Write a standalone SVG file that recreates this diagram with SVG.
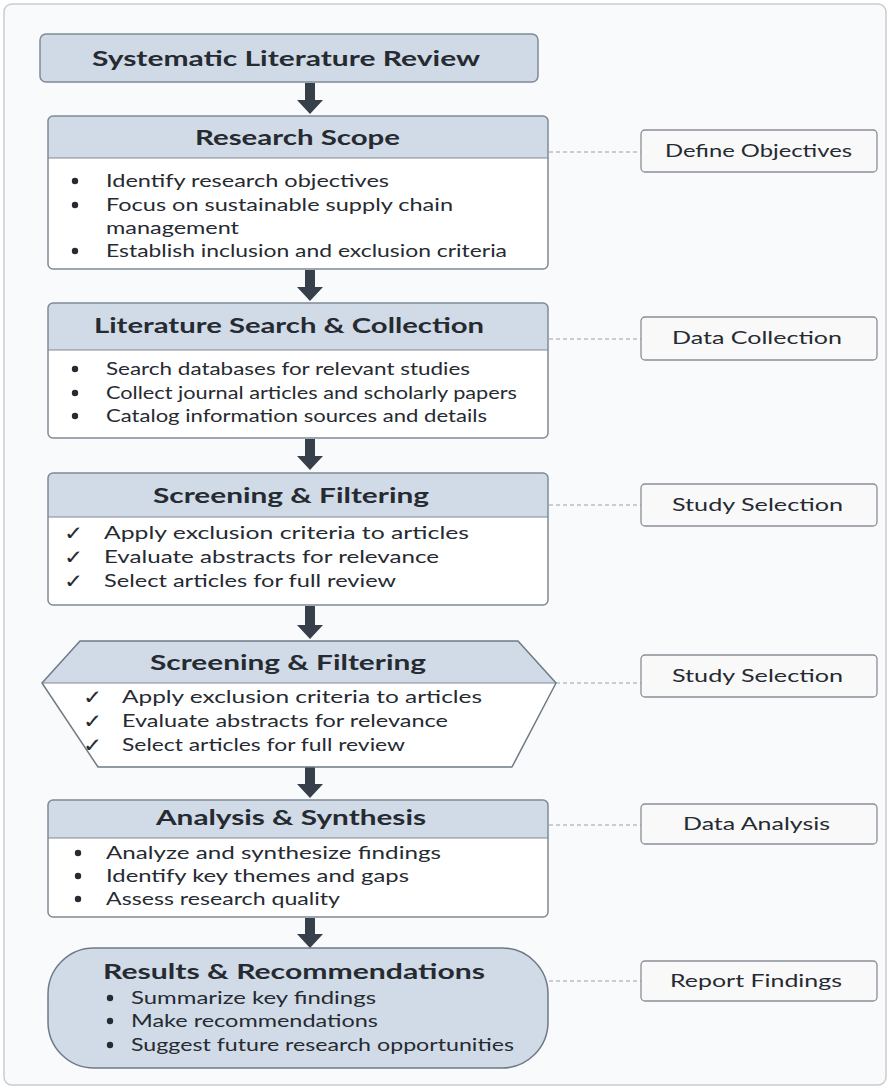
<svg xmlns="http://www.w3.org/2000/svg" width="891" height="1089" viewBox="0 0 891 1089">
<defs>
<style>
.frame{fill:#f9fafb;stroke:#c9ccd1;stroke-width:1.5}
.hdr{fill:#d0dbe7;stroke:none}
.body{fill:#ffffff;stroke:none}
.outline{fill:none;stroke:#7f8a96;stroke-width:1.5}
.side{fill:#f9f9fa;stroke:#8a8f96;stroke-width:1.3}
.dash{stroke:#9aa0a8;stroke-width:1.2;stroke-dasharray:4 3;fill:none}
.arrow{fill:#363f4a}
.t{font-family:Lato,"Open Sans","Liberation Sans",sans-serif;fill:#262a31}
.h{font-size:21.5px;font-weight:700}
.b{font-size:17px}
.s{font-size:17.5px}
.ck{font-family:"DejaVu Sans",sans-serif;font-size:20px;font-weight:700;fill:#262a31}
.dot{fill:#262a31}
</style>
</defs>
<rect class="frame" x="4" y="4" width="882" height="1081" rx="8"/>

<g id="connectors">
<path class="arrow" d="M305 83h10v17h8l-13 14l-13-14h8z"/>
<path class="arrow" d="M305 270h10v17h8l-13 14l-13-14h8z"/>
<path class="arrow" d="M305 439h10v17h8l-13 14l-13-14h8z"/>
<path class="arrow" d="M305 606h10v19h8l-13 14l-13-14h8z"/>
<path class="arrow" d="M305 767h10v17h8l-13 14l-13-14h8z"/>
<path class="arrow" d="M305 918h10v16h8l-13 14l-13-14h8z"/>
<line class="dash" x1="549" y1="152" x2="641" y2="152"/>
<line class="dash" x1="549" y1="339" x2="641" y2="339"/>
<line class="dash" x1="549" y1="505" x2="641" y2="505"/>
<line class="dash" x1="556" y1="683" x2="641" y2="683"/>
<line class="dash" x1="549" y1="825" x2="641" y2="825"/>
<line class="dash" x1="549" y1="981" x2="641" y2="981"/>
</g>

<g id="title">
<rect x="40" y="34" width="498" height="48" rx="6" fill="#cfdae6" stroke="#7f8a96" stroke-width="1.5"/>
<text class="t h" x="92" y="66" textLength="388" lengthAdjust="spacingAndGlyphs">Systematic Literature Review</text>
</g>

<g id="research-scope">
<path class="body" d="M48 158H548V264a5 5 0 0 1-5 5H53a5 5 0 0 1-5-5z"/>
<path class="hdr" d="M53 116H543a5 5 0 0 1 5 5V158H48V121a5 5 0 0 1 5-5z"/>
<line x1="48" y1="158" x2="548" y2="158" stroke="#7f8a96" stroke-width="1.2"/>
<rect class="outline" x="48" y="116" width="500" height="153" rx="5"/>
<text class="t h" x="195" y="145" textLength="205" lengthAdjust="spacingAndGlyphs">Research Scope</text>
<circle class="dot" cx="75" cy="181" r="3.2"/>
<circle class="dot" cx="75" cy="205" r="3.2"/>
<circle class="dot" cx="75" cy="251" r="3.2"/>
<text class="t b" x="106" y="187" textLength="283" lengthAdjust="spacingAndGlyphs">Identify research objectives</text>
<text class="t b" x="106" y="211" textLength="347" lengthAdjust="spacingAndGlyphs">Focus on sustainable supply chain</text>
<text class="t b" x="106" y="234" textLength="133" lengthAdjust="spacingAndGlyphs">management</text>
<text class="t b" x="106" y="257" textLength="401" lengthAdjust="spacingAndGlyphs">Establish inclusion and exclusion criteria</text>
</g>

<g id="literature-search">
<path class="body" d="M48 350H548V433a5 5 0 0 1-5 5H53a5 5 0 0 1-5-5z"/>
<path class="hdr" d="M53 303H543a5 5 0 0 1 5 5V350H48V308a5 5 0 0 1 5-5z"/>
<line x1="48" y1="350" x2="548" y2="350" stroke="#7f8a96" stroke-width="1.2"/>
<rect class="outline" x="48" y="303" width="500" height="135" rx="5"/>
<text class="t h" x="94" y="333" textLength="390" lengthAdjust="spacingAndGlyphs">Literature Search &amp; Collection</text>
<circle class="dot" cx="75" cy="369" r="3.2"/>
<circle class="dot" cx="75" cy="393" r="3.2"/>
<circle class="dot" cx="75" cy="416" r="3.2"/>
<text class="t b" x="106" y="375" textLength="364" lengthAdjust="spacingAndGlyphs">Search databases for relevant studies</text>
<text class="t b" x="106" y="399" textLength="411" lengthAdjust="spacingAndGlyphs">Collect journal articles and scholarly papers</text>
<text class="t b" x="106" y="422" textLength="381" lengthAdjust="spacingAndGlyphs">Catalog information sources and details</text>
</g>

<g id="screening-1">
<path class="body" d="M48 517H548V600a5 5 0 0 1-5 5H53a5 5 0 0 1-5-5z"/>
<path class="hdr" d="M53 473H543a5 5 0 0 1 5 5V517H48V478a5 5 0 0 1 5-5z"/>
<line x1="48" y1="517" x2="548" y2="517" stroke="#7f8a96" stroke-width="1.2"/>
<rect class="outline" x="48" y="473" width="500" height="132" rx="5"/>
<text class="t h" x="153" y="503" textLength="276" lengthAdjust="spacingAndGlyphs">Screening &amp; Filtering</text>
<text class="ck" transform="translate(64 540) scale(1.15 1)">✓</text>
<text class="ck" transform="translate(64 564) scale(1.15 1)">✓</text>
<text class="ck" transform="translate(64 588) scale(1.15 1)">✓</text>
<text class="t b" x="104" y="539" textLength="365" lengthAdjust="spacingAndGlyphs">Apply exclusion criteria to articles</text>
<text class="t b" x="104" y="563" textLength="335" lengthAdjust="spacingAndGlyphs">Evaluate abstracts for relevance</text>
<text class="t b" x="104" y="587" textLength="292" lengthAdjust="spacingAndGlyphs">Select articles for full review</text>
</g>

<g id="screening-2">
<path d="M42 683L100 767H510L556 683z" fill="#ffffff"/>
<path d="M80 641H518L556 683H42z" fill="#d0dbe7"/>
<line x1="42" y1="683" x2="556" y2="683" stroke="#7f8a96" stroke-width="1.2"/>
<path d="M80 641H518L556 683L512 767H98L42 683z" fill="none" stroke="#6f7a86" stroke-width="1.5" stroke-linejoin="round"/>
<text class="t h" x="150" y="670" textLength="276" lengthAdjust="spacingAndGlyphs">Screening &amp; Filtering</text>
<text class="ck" transform="translate(83 704) scale(1.15 1)">✓</text>
<text class="ck" transform="translate(83 728) scale(1.15 1)">✓</text>
<text class="ck" transform="translate(83 752) scale(1.15 1)">✓</text>
<text class="t b" x="122" y="703" textLength="360" lengthAdjust="spacingAndGlyphs">Apply exclusion criteria to articles</text>
<text class="t b" x="122" y="727" textLength="326" lengthAdjust="spacingAndGlyphs">Evaluate abstracts for relevance</text>
<text class="t b" x="122" y="751" textLength="283" lengthAdjust="spacingAndGlyphs">Select articles for full review</text>
</g>

<g id="analysis">
<path class="body" d="M48 838H548V912a5 5 0 0 1-5 5H53a5 5 0 0 1-5-5z"/>
<path class="hdr" d="M53 800H543a5 5 0 0 1 5 5V838H48V805a5 5 0 0 1 5-5z"/>
<line x1="48" y1="838" x2="548" y2="838" stroke="#7f8a96" stroke-width="1.2"/>
<rect class="outline" x="48" y="800" width="500" height="117" rx="5"/>
<text class="t h" x="156" y="825" textLength="270" lengthAdjust="spacingAndGlyphs">Analysis &amp; Synthesis</text>
<circle class="dot" cx="78" cy="853" r="3.2"/>
<circle class="dot" cx="78" cy="876" r="3.2"/>
<circle class="dot" cx="78" cy="899" r="3.2"/>
<text class="t b" x="106" y="859" textLength="335" lengthAdjust="spacingAndGlyphs">Analyze and synthesize findings</text>
<text class="t b" x="106" y="882" textLength="303" lengthAdjust="spacingAndGlyphs">Identify key themes and gaps</text>
<text class="t b" x="106" y="905" textLength="234" lengthAdjust="spacingAndGlyphs">Assess research quality</text>
</g>

<g id="results">
<rect x="48" y="948" width="500" height="120" rx="46" fill="#d0dbe7" stroke="#6f7a86" stroke-width="1.5"/>
<text class="t h" x="103" y="979" textLength="382" lengthAdjust="spacingAndGlyphs">Results &amp; Recommendations</text>
<circle class="dot" cx="110" cy="998" r="3.2"/>
<circle class="dot" cx="110" cy="1021" r="3.2"/>
<circle class="dot" cx="110" cy="1045" r="3.2"/>
<text class="t b" x="131" y="1004" textLength="245" lengthAdjust="spacingAndGlyphs">Summarize key findings</text>
<text class="t b" x="131" y="1027" textLength="247" lengthAdjust="spacingAndGlyphs">Make recommendations</text>
<text class="t b" x="131" y="1051" textLength="383" lengthAdjust="spacingAndGlyphs">Suggest future research opportunities</text>
</g>

<g id="side-define">
<rect class="side" x="641" y="130" width="236" height="42" rx="4"/>
<text class="t s" x="665" y="157" textLength="187" lengthAdjust="spacingAndGlyphs">Define Objectives</text>
</g>
<g id="side-data-collection">
<rect class="side" x="641" y="317" width="236" height="43" rx="4"/>
<text class="t s" x="672" y="344" textLength="170" lengthAdjust="spacingAndGlyphs">Data Collection</text>
</g>
<g id="side-study-1">
<rect class="side" x="641" y="484" width="236" height="42" rx="4"/>
<text class="t s" x="672" y="511" textLength="171" lengthAdjust="spacingAndGlyphs">Study Selection</text>
</g>
<g id="side-study-2">
<rect class="side" x="641" y="655" width="236" height="42" rx="4"/>
<text class="t s" x="672" y="682" textLength="171" lengthAdjust="spacingAndGlyphs">Study Selection</text>
</g>
<g id="side-data-analysis">
<rect class="side" x="641" y="804" width="236" height="40" rx="4"/>
<text class="t s" x="683" y="830" textLength="147" lengthAdjust="spacingAndGlyphs">Data Analysis</text>
</g>
<g id="side-report">
<rect class="side" x="641" y="961" width="236" height="40" rx="4"/>
<text class="t s" x="670" y="987" textLength="172" lengthAdjust="spacingAndGlyphs">Report Findings</text>
</g>
</svg>
